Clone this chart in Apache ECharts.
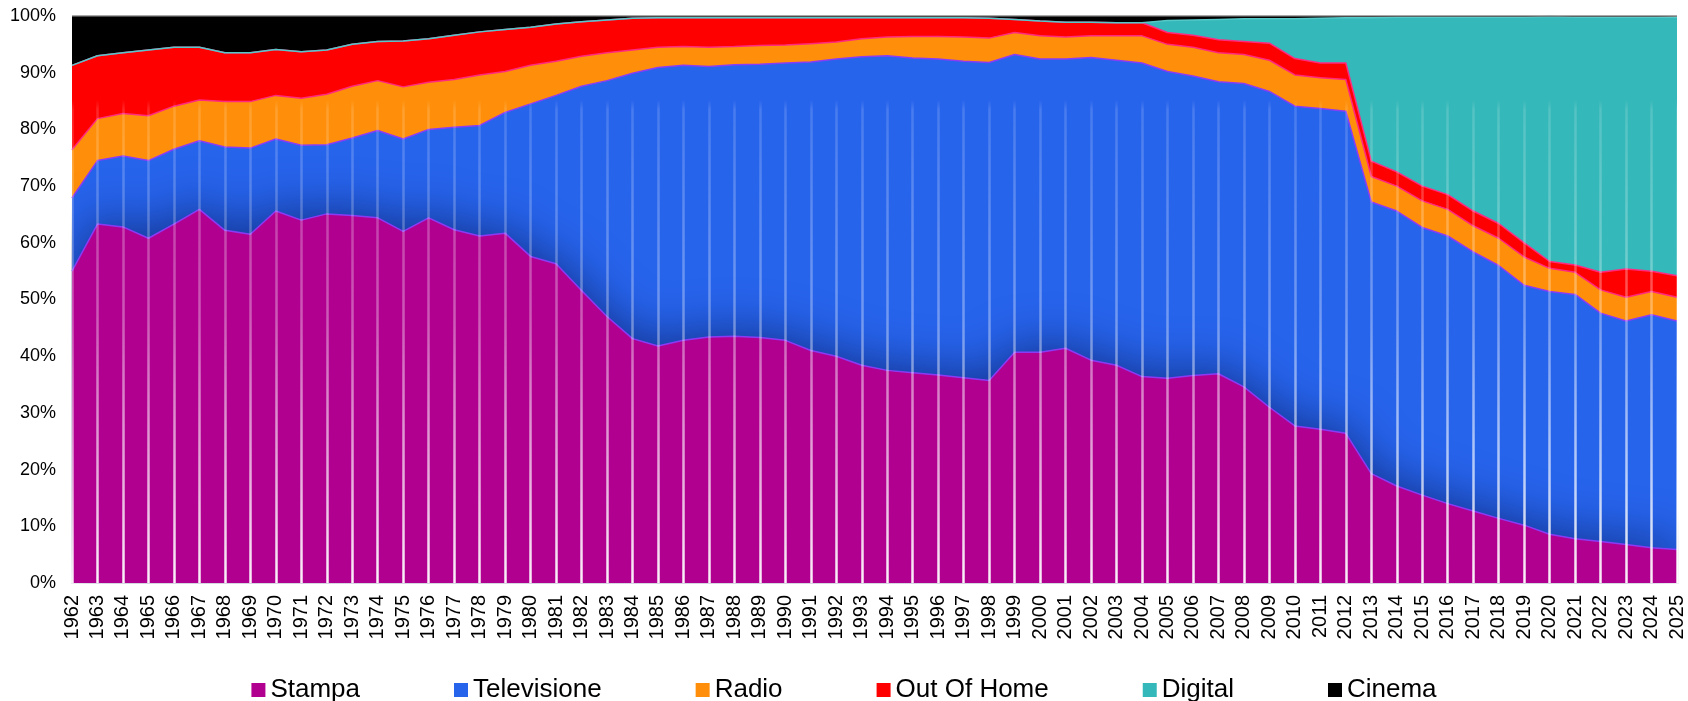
<!DOCTYPE html>
<html><head><meta charset="utf-8">
<script src="https://cdn.jsdelivr.net/npm/echarts@6/dist/echarts.min.js"></script>
<style>html,body{margin:0;padding:0;background:#fff}#c{width:1688px;height:701px}</style>
</head><body><div id="c"></div>
<script>
const years = ['1962','1963','1964','1965','1966','1967','1968','1969','1970','1971','1972','1973','1974','1975','1976','1977','1978','1979','1980','1981','1982','1983','1984','1985','1986','1987','1988','1989','1990','1991','1992','1993','1994','1995','1996','1997','1998','1999','2000','2001','2002','2003','2004','2005','2006','2007','2008','2009','2010','2011','2012','2013','2014','2015','2016','2017','2018','2019','2020','2021','2022','2023','2024','2025'];

const stampa = [55.0,63.3,62.8,60.8,63.3,65.9,62.2,61.5,65.6,64.0,65.1,64.8,64.4,62.0,64.4,62.3,61.2,61.7,57.6,56.3,51.6,47.0,43.1,41.8,42.8,43.4,43.5,43.3,42.8,41.0,40.0,38.4,37.5,37.1,36.7,36.2,35.7,40.7,40.7,41.4,39.3,38.4,36.4,36.1,36.6,36.9,34.6,31.0,27.7,27.1,26.4,19.3,17.1,15.5,14.0,12.7,11.4,10.2,8.6,7.8,7.3,6.8,6.2,5.9];
const televisione = [12.9,11.2,12.5,13.7,13.2,12.1,14.7,15.2,12.7,13.2,12.2,13.7,15.4,16.3,15.6,18.1,19.5,21.3,26.9,29.7,36.0,41.6,46.8,49.1,48.5,47.7,47.9,48.2,48.9,50.9,52.4,54.4,55.5,55.5,55.7,55.8,56.1,52.5,51.7,51.0,53.4,53.8,55.3,54.1,52.8,51.5,53.5,55.7,56.4,56.6,56.8,47.9,48.5,47.2,47.2,45.7,44.6,42.3,42.8,43.1,40.3,39.4,41.1,40.3];
const radio = [8.5,7.4,7.5,7.9,7.6,7.2,8.0,8.2,7.7,8.3,8.9,9.1,8.8,9.2,8.3,8.4,8.9,7.2,6.8,6.0,5.3,4.9,4.1,3.6,3.3,3.4,3.2,3.3,3.2,3.2,3.0,3.2,3.3,3.8,4.0,4.3,4.3,3.9,4.1,3.9,3.8,4.3,4.8,4.8,5.1,5.1,5.1,5.5,5.5,5.4,5.6,4.5,4.4,4.7,4.7,4.6,4.8,5.0,4.1,3.9,4.1,4.2,4.1,4.2];
const outOfHome = [14.9,11.1,10.7,11.6,10.4,9.3,8.6,8.6,8.1,8.2,7.8,7.4,6.9,8.1,7.7,7.8,7.6,7.4,6.7,6.6,6.1,5.8,5.6,5.2,5.1,5.2,5.1,4.9,4.8,4.6,4.3,3.7,3.4,3.3,3.3,3.4,3.5,2.3,2.6,2.6,2.4,2.3,2.3,2.1,2.1,2.3,2.3,3.0,2.9,2.6,2.9,2.7,2.5,2.6,2.6,2.6,2.6,2.5,1.2,1.3,3.1,5.0,3.6,3.8];
const digital = [0,0,0,0,0,0,0,0,0,0,0,0,0,0,0,0,0,0,0,0,0,0,0,0,0,0,0,0,0,0,0,0,0,0,0,0,0,0,0,0,0,0,0,2.1,2.7,3.6,4.0,4.3,7.0,7.9,8.0,25.3,27.3,29.8,31.3,34.2,36.4,39.8,43.2,43.7,45.0,44.4,44.8,45.6];
const cinema = [8.7,7.0,6.5,6.0,5.5,5.5,6.5,6.5,5.9,6.3,6.0,5.0,4.5,4.4,4.0,3.4,2.8,2.4,2.0,1.4,1.0,0.7,0.4,0.3,0.3,0.3,0.3,0.3,0.3,0.3,0.3,0.3,0.3,0.3,0.3,0.3,0.4,0.6,0.9,1.1,1.1,1.2,1.2,0.8,0.7,0.6,0.5,0.5,0.5,0.4,0.3,0.3,0.2,0.2,0.2,0.2,0.2,0.2,0.1,0.2,0.2,0.2,0.2,0.2];

const seriesNames = ['Stampa','Televisione','Radio','Out Of Home','Digital','Cinema'];
const yTicks = [0,10,20,30,40,50,60,70,80,90,100];

const raw = [stampa, televisione, radio, outOfHome, digital, cinema];
const totals = years.map((_, i) => raw.reduce((s, a) => s + a[i], 0));
const pct = raw.map(a => a.map((v, i) => +(v / totals[i] * 100).toFixed(3)));

const fills = ['#B10090', '#2764EC', '#FF8F0A', '#FF0000', '#35B8B9', '#000000'];
const strokes = ['#8A3CF5', '#8A3CF5', '#FF2A80', '#FF2A80', '#55C8C8', '#666666'];

const FONT = "'Liberation Sans', Arial, sans-serif";
const chart = echarts.init(document.getElementById('c'), null, {renderer: 'canvas'});

const dropGrad = new echarts.graphic.LinearGradient(0, 100, 0, 583, [
  {offset: 0, color: 'rgba(255,255,255,0)'},
  {offset: 0.02, color: 'rgba(255,255,255,0.15)'},
  {offset: 0.45, color: 'rgba(255,255,255,0.35)'},
  {offset: 0.8, color: 'rgba(255,255,255,0.7)'},
  {offset: 1, color: 'rgba(255,255,255,0.95)'}
], true);

const series = seriesNames.map((n, i) => {
  const s = {
    name: n, type: 'line', stack: 'total', data: pct[i],
    symbol: 'none', showSymbol: false, smooth: false,
    color: fills[i],
    itemStyle: {color: fills[i]},
    lineStyle: {color: strokes[i], width: 1.5},
    areaStyle: {color: fills[i], opacity: 1},
    z: 2
  };
  if (i === 0) {
    s.z = 3;
    s.areaStyle.shadowColor = 'rgba(10,25,90,0.6)';
    s.areaStyle.shadowBlur = 45;
    s.areaStyle.shadowOffsetY = -6;
  }
  return s;
});

chart.setOption({
  animation: false,
  backgroundColor: '#fff',
  textStyle: {fontFamily: FONT},
  grid: {left: 72, right: 11, top: 16, bottom: 118, containLabel: false},
  legend: {
    data: seriesNames, left: 'center', top: 672, icon: 'rect',
    itemWidth: 14, itemHeight: 14, itemGap: 94,
    textStyle: {fontSize: 26, color: '#000', fontFamily: FONT}
  },
  xAxis: [{
    type: 'category', data: years, boundaryGap: false,
    axisLine: {show: false}, axisTick: {show: false},
    axisLabel: {rotate: 90, interval: 0, fontSize: 20, color: '#000', margin: 12, fontFamily: FONT},
    splitLine: {show: false}
  }, {
    type: 'category', data: years, boundaryGap: false, position: 'bottom', z: 10,
    axisLine: {show: false}, axisTick: {show: false}, axisLabel: {show: false},
    splitLine: {show: true, interval: 0, lineStyle: {color: dropGrad, width: 2.5}}
  }],
  yAxis: {
    type: 'value', min: yTicks[0], max: yTicks[yTicks.length - 1], interval: 10,
    axisLine: {show: false}, axisTick: {show: false}, splitLine: {show: false},
    axisLabel: {formatter: '{value}%', fontSize: 18, color: '#000', margin: 16, fontFamily: FONT}
  },
  series: series
});
</script></body></html>
